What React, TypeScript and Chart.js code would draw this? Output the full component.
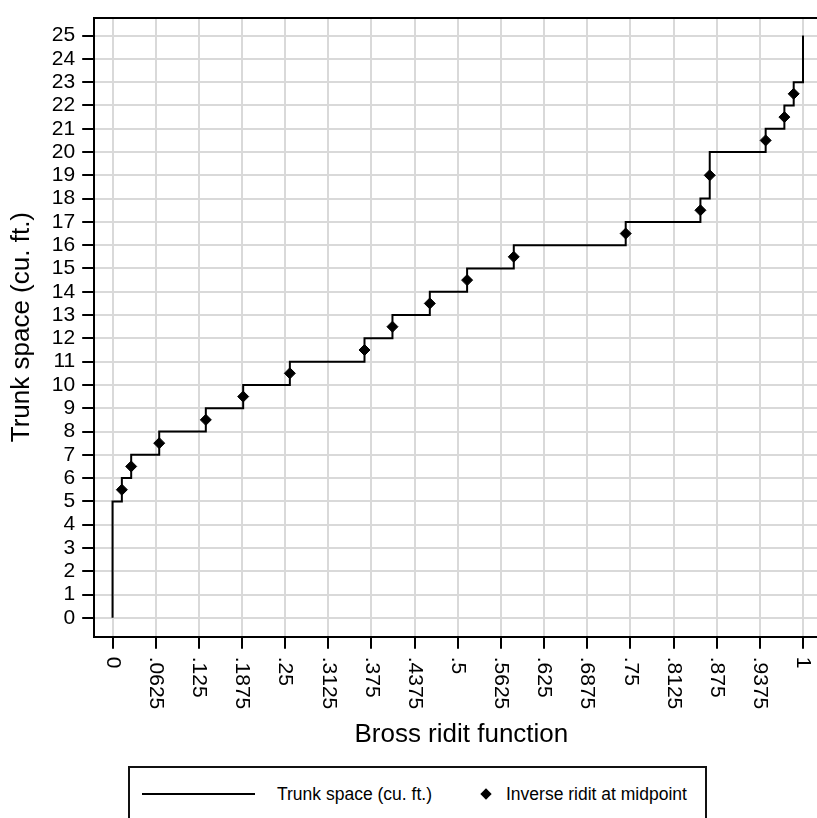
import React, { useEffect, useRef } from 'react';
import { Chart, registerables } from 'chart.js';

Chart.register(...registerables);

const FONT = '"Liberation Sans", Arial, Helvetica, sans-serif';

// Step function: Bross ridit (x) vs trunk space (y)
const stepRidit = [0, 0, 0.0135, 0.027, 0.0676, 0.1351, 0.1892, 0.2568, 0.3649, 0.4054, 0.4595, 0.5135, 0.5811, 0.7432, 0.8514, 0.8649, 0.9459, 0.973, 0.9865, 1];
const stepTrunk = [0, 5, 6, 7, 8, 9, 10, 11, 12, 13, 14, 15, 16, 17, 18, 20, 21, 22, 23, 25];

// Inverse ridit at midpoint (diamonds)
const midRidit = [0.0135, 0.027, 0.0676, 0.1351, 0.1892, 0.2568, 0.3649, 0.4054, 0.4595, 0.5135, 0.5811, 0.7432, 0.8514, 0.8649, 0.9459, 0.973, 0.9865];
const midTrunk = [5.5, 6.5, 7.5, 8.5, 9.5, 10.5, 11.5, 12.5, 13.5, 14.5, 15.5, 16.5, 17.5, 19, 20.5, 21.5, 22.5];

const yTicks = [0, 1, 2, 3, 4, 5, 6, 7, 8, 9, 10, 11, 12, 13, 14, 15, 16, 17, 18, 19, 20, 21, 22, 23, 24, 25];
const xTickValues = [0, 0.0625, 0.125, 0.1875, 0.25, 0.3125, 0.375, 0.4375, 0.5, 0.5625, 0.625, 0.6875, 0.75, 0.8125, 0.875, 0.9375, 1];
const xTickLabels = ['0', '.0625', '.125', '.1875', '.25', '.3125', '.375', '.4375', '.5', '.5625', '.625', '.6875', '.75', '.8125', '.875', '.9375', '1'];

const lineLabel = 'Trunk space (cu. ft.)';
const pointLabel = 'Inverse ridit at midpoint';
const xTitle = 'Bross ridit function';
const yTitle = 'Trunk space (cu. ft.)';

const CW = 835;
const CH = 760;
const PLOT_BOTTOM = 636.7;

const decor = {
  id: 'stataDecor',
  afterDraw(chart: any) {
    const ctx = chart.ctx as CanvasRenderingContext2D;
    const { top, left } = chart.chartArea;
    ctx.save();
    ctx.strokeStyle = '#000';
    ctx.lineWidth = 2;
    ctx.beginPath();
    ctx.moveTo(left - 1, Math.round(top));
    ctx.lineTo(chart.width, Math.round(top));
    ctx.stroke();
    const xs = chart.scales.x;
    ctx.font = `21px ${FONT}`;
    ctx.fillStyle = '#000';
    ctx.textAlign = 'left';
    ctx.textBaseline = 'middle';
    xs.ticks.forEach((t: any) => {
      const idx = xTickValues.indexOf(t.value);
      if (idx < 0) return;
      const px = xs.getPixelForValue(t.value);
      ctx.save();
      ctx.translate(px, xs.top + 20);
      ctx.rotate(Math.PI / 2);
      ctx.fillText(xTickLabels[idx], 0, 0);
      ctx.restore();
    });
    ctx.restore();
  },
};

export default function App() {
  const ref = useRef<HTMLCanvasElement>(null);

  useEffect(() => {
    const canvas = ref.current!;
    const gridOpts = {
      color: '#d9d9d9',
      lineWidth: 2,
      tickColor: '#000',
      tickWidth: 2,
      tickLength: 12,
      drawTicks: true,
    };
    const chart = new Chart(canvas, {
      type: 'line',
      data: {
        datasets: [
          {
            label: pointLabel,
            data: midRidit.map((x, i) => ({ x, y: midTrunk[i] })),
            showLine: false,
            pointStyle: 'rectRot',
            pointRadius: 5.5,
            pointHoverRadius: 5.5,
            pointBackgroundColor: '#000',
            pointBorderColor: '#000',
            pointBorderWidth: 1,
            backgroundColor: '#000',
            borderColor: '#000',
          },
          {
            label: lineLabel,
            data: stepRidit.map((x, i) => ({ x, y: stepTrunk[i] })),
            stepped: 'before',
            borderColor: '#000',
            borderWidth: 2,
            pointRadius: 0,
            pointHoverRadius: 0,
            fill: false,
          },
        ],
      } as any,
      options: {
        responsive: false,
        animation: false,
        devicePixelRatio: 1,
        layout: { padding: { top: 13.5, left: 0, right: 0, bottom: 0 } },
        plugins: { legend: { display: false }, tooltip: { enabled: false } },
        scales: {
          x: {
            type: 'linear',
            min: -0.02656,
            max: 1.0369,
            afterBuildTicks: (s: any) => {
              s.ticks = xTickValues.map((v) => ({ value: v }));
            },
            afterFit: (s: any) => {
              s.height = CH - PLOT_BOTTOM;
            },
            ticks: { display: false, autoSkip: false },
            grid: gridOpts,
            border: { color: '#000', width: 2 },
            title: {
              display: true,
              text: xTitle,
              color: '#000',
              font: { size: 26, family: FONT },
              padding: { top: 0, bottom: 10 },
            },
          },
          y: {
            type: 'linear',
            min: -0.81,
            max: 25.776,
            afterBuildTicks: (s: any) => {
              s.ticks = yTicks.map((v) => ({ value: v }));
            },
            afterFit: (s: any) => {
              s.width = 94.2;
            },
            ticks: {
              autoSkip: false,
              color: '#000',
              padding: 7,
              font: { size: 21, family: FONT, lineHeight: 1 },
            },
            grid: gridOpts,
            border: { color: '#000', width: 2 },
            title: {
              display: true,
              text: yTitle,
              color: '#000',
              font: { size: 26, family: FONT },
              padding: { top: 6, bottom: 0 },
            },
          },
        },
      } as any,
      plugins: [decor],
    });
    return () => chart.destroy();
  }, []);

  const textStyle: React.CSSProperties = {
    position: 'absolute',
    top: 784,
    height: 20,
    lineHeight: '20px',
    fontSize: 17.5,
    fontFamily: FONT,
    color: '#000',
    whiteSpace: 'nowrap',
  };

  return (
    <div
      style={{
        position: 'fixed',
        left: 0,
        top: 0,
        width: 817,
        height: 818,
        overflow: 'hidden',
        background: '#fff',
      }}
    >
      <canvas ref={ref} width={CW} height={CH} style={{ display: 'block' }} />
      <div
        style={{
          position: 'absolute',
          left: 128,
          top: 766,
          width: 579,
          height: 80,
          border: '2px solid #111',
          boxSizing: 'border-box',
        }}
      />
      <div style={{ position: 'absolute', left: 142, top: 793, width: 113, height: 2, background: '#000' }} />
      <div style={{ ...textStyle, left: 277 }}>{lineLabel}</div>
      <div
        style={{
          position: 'absolute',
          left: 482,
          top: 790,
          width: 8,
          height: 8,
          background: '#000',
          transform: 'rotate(45deg)',
        }}
      />
      <div style={{ ...textStyle, left: 506 }}>{pointLabel}</div>
    </div>
  );
}
